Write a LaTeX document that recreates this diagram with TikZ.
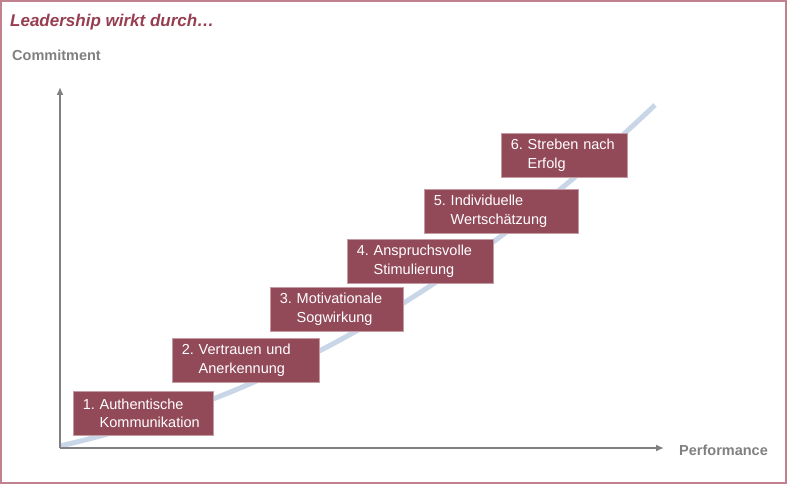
\documentclass[tikz,border=0pt]{standalone}
\usepackage{fontspec}
\setmainfont{Liberation Sans}
\usetikzlibrary{arrows.meta}
\definecolor{weinrot}{RGB}{147,74,88}
\definecolor{titelrot}{RGB}{150,62,80}
\definecolor{rahmen}{RGB}{192,128,142}
\definecolor{achsgrau}{RGB}{128,128,128}
\definecolor{kurvenblau}{RGB}{200,214,232}
\frenchspacing
\begin{document}
\begin{tikzpicture}[x=1pt,y=-1pt,
  stufe/.style={rectangle,fill=weinrot,draw=weinrot!55!white,line width=0.6pt,
    anchor=north west,minimum height=44pt,inner xsep=9.5pt,inner ysep=0pt,
    align=left,text=white,font=\fontsize{14.5}{18.5}\selectfont},
  achse/.style={achsgrau,line width=2.5pt,-{Latex[length=8pt,width=7pt]}},
  beschriftung/.style={anchor=base west,inner sep=0pt,text=achsgrau,font=\bfseries\fontsize{14.5}{17}\selectfont}]
\useasboundingbox (0,0) rectangle (792,486);
\draw[rahmen,line width=1.5pt] (1,1) rectangle (786,483);
% Titel und Achsen
\node[anchor=base west,inner sep=0pt,text=titelrot,font=\bfseries\itshape\fontsize{17}{20}\selectfont] (titel) at (10,27) {Leadership wirkt durch…};
\node[beschriftung] (commitment) at (12,61) {Commitment};
\node[beschriftung] (performance) at (679,455) {Performance};
\coordinate (ursprung) at (60,448);
\coordinate (yende) at (60,87);
\coordinate (xende) at (664,448);
\coordinate (kurvenende) at (655,105);
\draw[kurvenblau,line width=5pt] (ursprung) ++(0,-2) .. controls (260,400) and (450,300) .. (kurvenende);
\draw[achse] (ursprung) -- (yende);
\draw[achse] (ursprung) -- (xende);
% Stufen
\node[stufe,text width=121pt] (s1) at (73,391) {1. Authentische\\\phantom{1.~}Kommunikation};
\node[stufe,text width=128pt] (s2) at (172,338) {2. Vertrauen und\\\phantom{2.~}Anerkennung};
\node[stufe,text width=114pt] (s3) at (270,287) {3. Motivationale\\\phantom{3.~}Sogwirkung};
\node[stufe,text width=127pt] (s4) at (347,239) {4. Anspruchsvolle\\\phantom{4.~}Stimulierung};
\node[stufe,text width=135pt] (s5) at (424,189) {5. Individuelle\\\phantom{5.~}Wertschätzung};
\node[stufe,text width=107pt] (s6) at (501,133) {6. Streben nach\\\phantom{6.~}Erfolg};
\end{tikzpicture}
\end{document}
